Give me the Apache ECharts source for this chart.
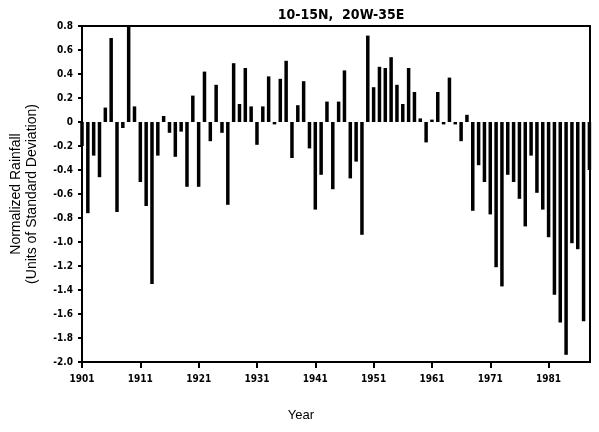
<!DOCTYPE html>
<html>
<head>
<meta charset="utf-8">
<script src="https://cdn.jsdelivr.net/npm/echarts@6/dist/echarts.min.js"></script>
<style>
html,body{margin:0;padding:0;background:#fff;}
#chart{width:599px;height:432px;}
</style>
</head>
<body>
<div id="chart"></div>
<script>
// Years 1901..1988
const years = [];
for (let y = 1901; y <= 1988; y++) years.push(y);

// Normalized rainfall (units of standard deviation)
const rainfall = [
  -0.20, -0.76, -0.28, -0.46,  0.12,  0.70, -0.75, -0.05,  0.80,  0.13, // 1901-1910
  -0.50, -0.70, -1.35, -0.28,  0.05, -0.09, -0.29, -0.08, -0.54,  0.22, // 1911-1920
  -0.54,  0.42, -0.16,  0.31, -0.09, -0.69,  0.49,  0.15,  0.45,  0.13, // 1921-1930
  -0.19,  0.13,  0.38, -0.02,  0.36,  0.51, -0.30,  0.14,  0.34, -0.22, // 1931-1940
  -0.73, -0.44,  0.17, -0.56,  0.17,  0.43, -0.47, -0.33, -0.94,  0.72, // 1941-1950
   0.29,  0.46,  0.45,  0.54,  0.31,  0.15,  0.45,  0.25,  0.03, -0.17, // 1951-1960
   0.02,  0.25, -0.02,  0.37, -0.02, -0.16,  0.06, -0.74, -0.36, -0.50, // 1961-1970
  -0.77, -1.21, -1.37, -0.44, -0.50, -0.64, -0.87, -0.28, -0.59, -0.73, // 1971-1980
  -0.96, -1.44, -1.67, -1.94, -1.01, -1.06, -1.66, -0.40                // 1981-1988
];

const xTickYears = [1901, 1911, 1921, 1931, 1941, 1951, 1961, 1971, 1981];
const yTicks = [0.8, 0.6, 0.4, 0.2, 0, -0.2, -0.4, -0.6, -0.8, -1.0, -1.2, -1.4, -1.6, -1.8, -2.0];

const titleText = '10-15N,  20W-35E';
const yNameLines = ['Normalized Rainfall', '(Units of Standard Deviation)'];
const xName = 'Year';

const tickFont = '"Liberation Sans Narrow", "DejaVu Sans Condensed", "Liberation Sans", sans-serif';
const textFont = '"Liberation Sans", Arial, sans-serif';

const chart = echarts.init(document.getElementById('chart'), null, {renderer: 'canvas'});
chart.setOption({
  animation: false,
  backgroundColor: '#ffffff',
  title: [
    {
      text: titleText,
      left: 336, top: 3, textAlign: 'center',
      textStyle: {fontFamily: tickFont, fontWeight: 'bold', fontSize: 14, color: '#000'}
    },
    {
      text: xName,
      left: 296, top: 404, textAlign: 'center',
      textStyle: {fontFamily: textFont, fontWeight: 'normal', fontSize: 13, color: '#000'}
    }
  ],
  grid: {
    left: 78, right: 9, top: 26, bottom: 70,
    show: true, borderColor: '#000', borderWidth: 2, backgroundColor: 'transparent'
  },
  xAxis: {
    type: 'value',
    min: 1901, max: 1988.1,
    splitLine: {show: false},
    axisLine: {show: true, onZero: false, lineStyle: {color: '#000', width: 2}},
    axisTick: {show: true, length: 6, lineStyle: {color: '#000', width: 2},
               customValues: xTickYears},
    axisLabel: {
      customValues: xTickYears,
      formatter: v => String(v),
      fontFamily: tickFont, fontWeight: 'bold', fontSize: 10, color: '#000', margin: 12
    }
  },
  yAxis: {
    type: 'value',
    min: -2.0, max: 0.8, interval: 0.2,
    splitLine: {show: false},
    axisLine: {show: true, lineStyle: {color: '#000', width: 2}},
    axisTick: {show: true, length: 4, lineStyle: {color: '#000', width: 2}},
    axisLabel: {
      formatter: v => (Math.abs(v) < 1e-9 ? '0' : v.toFixed(1)),
      fontFamily: tickFont, fontWeight: 'bold', fontSize: 10, color: '#000', margin: 9
    },
    name: yNameLines.join('\n'),
    nameLocation: 'middle',
    nameGap: 42,
    nameTextStyle: {fontFamily: textFont, fontSize: 14, lineHeight: 16, color: '#000'}
  },
  series: [{
    type: 'bar',
    data: years.map((y, i) => [y, rainfall[i]]),
    barWidth: 3.5,
    itemStyle: {color: '#000'},
    clip: true
  }]
});
</script>
</body>
</html>
